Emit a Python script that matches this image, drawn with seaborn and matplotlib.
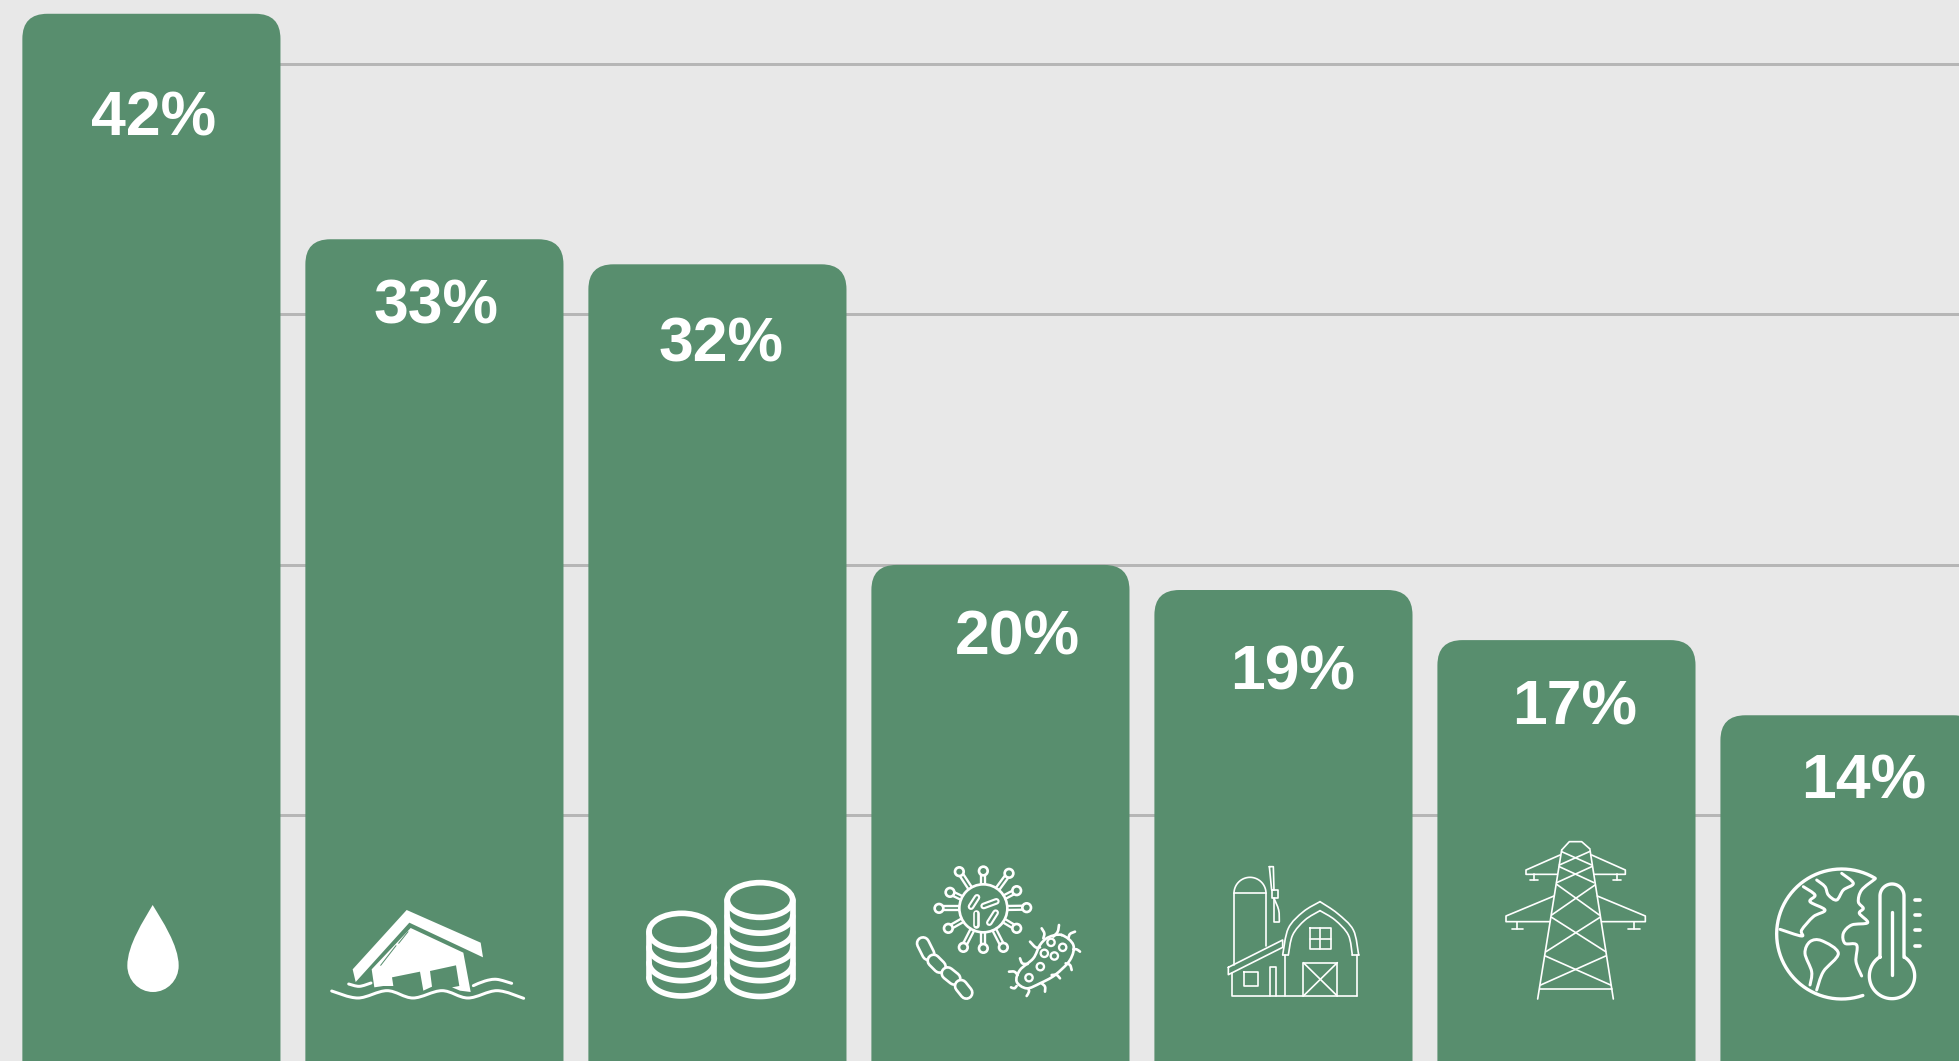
from matplotlib.patches import Circle, Ellipse, FancyBboxPatch, PathPatch, Polygon
from matplotlib.path import Path
from matplotlib.transforms import Affine2D

import matplotlib
matplotlib.use("Agg")
import matplotlib.pyplot as plt
import numpy as np
import seaborn as sns

# CHART VALUES
categories = ['water', 'flood', 'finance', 'disease', 'farm', 'power', 'climate']
values = [42, 33, 32, 20, 19, 17, 14]
value_labels = ['42%', '33%', '32%', '20%', '19%', '17%', '14%']
grid_ticks = [10, 20, 30, 40]

# LABEL OFFSET FROM THE TOP CENTRE OF EACH BAR, IN PIXELS
label_dx = [2, 2, 4, 16.5, 9, 8.5, 14]
label_dy = [105.5, 67.5, 80.5, 73, 82.5, 67.5, 66.5]

BG = '#e8e8e8'
GREEN = '#588e6e'
GRID = '#b6b6b6'
WHITE = '#ffffff'
W, H = 1959, 1061
DPI = 100
PX = 72 / DPI

sns.set_theme(style='white')
plt.rcParams['font.family'] = ['Liberation Sans', 'DejaVu Sans']

fig = plt.figure(figsize=(W / DPI, H / DPI), dpi=DPI, facecolor=BG)
ax = fig.add_axes([0, 0, 1, 1], facecolor=BG)

# BARS
sns.barplot(x=categories, y=values, order=categories, color=GREEN, saturation=1, width=0.912, ax=ax, zorder=2)
ax.set_xlim(-0.535, 6.387)
ax.set_ylim(0.2, 42.55)
x_unit = W / (ax.get_xlim()[1] - ax.get_xlim()[0])
y_unit = H / (ax.get_ylim()[1] - ax.get_ylim()[0])

# SWAP SQUARE BARS FOR ROUNDED ONES, BOTTOM CORNERS HIDDEN BELOW THE CANVAS
for bar in ax.patches[:len(values)]:
    bar.set_visible(False)
    x0, w, top = bar.get_x(), bar.get_width(), bar.get_height()
    ax.add_patch(FancyBboxPatch((x0, -3), w, top + 3, boxstyle='round,pad=0,rounding_size={}'.format(25 / x_unit),
                                mutation_aspect=x_unit / y_unit, facecolor=GREEN, edgecolor='none', zorder=2))

# GRID LINES START AT THE FIRST BAR, NOTHING TO THE LEFT OF IT
ax.hlines(grid_ticks, ax.patches[0].get_x() + 0.05, ax.get_xlim()[1], color=GRID, linewidth=3 * PX, zorder=1)
ax.tick_params(left=False, bottom=False, labelleft=False, labelbottom=False)
ax.set_xlabel('')
ax.set_ylabel('')
sns.despine(ax=ax, left=True, bottom=True)

for i, v in enumerate(values):
    ax.annotate(value_labels[i], xy=(i, v), xytext=(label_dx[i], -label_dy[i]), textcoords='offset pixels',
                ha='center', va='center', color=WHITE, fontsize=45, fontweight='bold', zorder=5)

# OVERLAY IN IMAGE PIXELS FOR THE ICONS
ov = fig.add_axes([0, 0, 1, 1], facecolor='none')
ov.set_xlim(0, W)
ov.set_ylim(H, 0)
ov.autoscale(False)
ov.axis('off')


def crop_tf(x0, y0):
    # ICON SHAPES ARE TRACED ON A 3X GRID WITH ITS ORIGIN AT (x0, y0)
    return Affine2D().scale(1 / 3).translate(x0, y0) + ov.transData


def line(tf, pts, lw=5, color=WHITE, cap='round', closed=False):
    pts = np.array(pts, dtype=float)
    if closed:
        pts = np.vstack([pts, pts[0]])
    ov.plot(pts[:, 0], pts[:, 1], transform=tf, color=color, linewidth=lw / 3 * PX,
            solid_capstyle=cap, solid_joinstyle='round', zorder=6)


def curve(tf, pts, lw=5, closed=False, color=WHITE):
    # CATMULL-ROM THROUGH THE TRACED POINTS
    p = np.array(pts, dtype=float)
    n = len(p)
    verts = [p[0]]
    codes = [Path.MOVETO]
    for i in range(n if closed else n - 1):
        if closed:
            a, b, c, d = p[(i - 1) % n], p[i], p[(i + 1) % n], p[(i + 2) % n]
        else:
            a, b, c, d = p[max(i - 1, 0)], p[i], p[i + 1], p[min(i + 2, n - 1)]
        verts += [b + (c - a) / 6, c - (d - b) / 6, c]
        codes += [Path.CURVE4] * 3
    ov.add_patch(PathPatch(Path(verts, codes), transform=tf, fill=False, edgecolor=color,
                           linewidth=lw / 3 * PX, capstyle='round', joinstyle='round', zorder=6))


def ring(tf, xy, r, lw=5):
    ov.add_patch(Circle(xy, r, transform=tf, fill=False, edgecolor=WHITE, linewidth=lw / 3 * PX, zorder=6))


def capsule(tf, a, b, outer, inner):
    line(tf, [a, b], lw=outer)
    line(tf, [a, b], lw=inner, color=GREEN)


def arc(cx, cy, rx, ry, start, end):
    t = np.radians(np.linspace(start, end, 60))
    return np.column_stack([cx + rx * np.cos(t), cy + ry * np.sin(t)])


# DROP
tf = crop_tf(120, 895)
drop = [(98, 30), (125, 75), (176, 150), (176, 212), (176, 255), (142, 291), (99, 291),
        (56, 291), (22, 255), (22, 212), (22, 150), (72, 75), (98, 30)]
ov.add_patch(PathPatch(Path(drop, [Path.MOVETO] + [Path.CURVE4] * 12), transform=tf,
                       facecolor=WHITE, edgecolor='none', zorder=6))

# FLOODED HOUSE
tf = crop_tf(320, 900)
ov.add_patch(Polygon([(260, 30), (482, 128), (489, 172), (268, 68), (107, 246), (98, 208)],
                     transform=tf, facecolor=WHITE, edgecolor='none', zorder=6))
ov.add_patch(Polygon([(272, 84), (430, 158), (452, 276), (420, 272), (396, 262), (418, 258), (408, 196), (330, 213),
                      (336, 260), (310, 272), (300, 215), (216, 232), (220, 258), (190, 258), (163, 262), (155, 208)],
                     transform=tf, facecolor=WHITE, edgecolor='none', zorder=6))
line(tf, [(264, 95), (236, 130)], lw=3, color=GREEN)
line(tf, [(228, 137), (182, 196)], lw=3, color=GREEN)
curve(tf, [(86, 252), (118, 259), (153, 249)], lw=9)
curve(tf, [(35, 273), (114, 294), (201, 272), (279, 294), (366, 272), (444, 294), (531, 272), (611, 295)], lw=9)
curve(tf, [(460, 257), (495, 243), (530, 238), (575, 250)], lw=9)

# COINS
tf = crop_tf(640, 875)
for cx, cy, rx, ry, step, count in [(360, 75, 98, 52, 47.5, 5), (125, 170, 98, 55, 46, 3)]:
    ov.add_patch(Ellipse((cx, cy), 2 * rx, 2 * ry, transform=tf, fill=False, edgecolor=WHITE,
                         linewidth=17 / 3 * PX, zorder=6))
    for k in range(1, count + 1):
        line(tf, arc(cx, cy + step * k, rx, ry, 0, 180), lw=17)
    line(tf, [(cx - rx, cy), (cx - rx, cy + step * count)], lw=17)
    line(tf, [(cx + rx, cy), (cx + rx, cy + step * count)], lw=17)

# VIRUS, CHAIN AND BACTERIUM
tf = crop_tf(905, 860)
centre = np.array([235.0, 145.0])
ring(tf, centre, 72, lw=8)
knobs = [(163, 35), (235, 33), (312, 40), (335, 92), (365, 143), (335, 205), (295, 262), (235, 265), (175, 262),
         (130, 205), (102, 145), (135, 97)]
for knob in knobs:
    knob = np.array(knob, dtype=float)
    u = (knob - centre) / np.linalg.norm(knob - centre)
    n = np.array([-u[1], u[0]])
    ring(tf, knob, 13, lw=8)
    for side in (-6, 6):
        line(tf, [centre + 72 * u + side * n, knob - 12 * u + side * n], lw=7)
for a, b in [((198, 140), (216, 112)), ((236, 138), (274, 124)), ((213, 160), (213, 194)), ((253, 188), (272, 158))]:
    capsule(tf, a, b, 20, 7)
for a, b in [((54, 250), (70, 282)), ((86, 302), (104, 320)), ((128, 340), (148, 356)), ((168, 378), (184, 398))]:
    capsule(tf, a, b, 44, 28)
curve(tf, [(470, 225), (505, 255), (495, 300), (450, 345), (405, 370), (365, 385), (335, 365), (345, 330), (385, 295),
           (405, 255), (430, 232)], lw=8, closed=True)
cilia = [[(405, 262), (392, 262), (375, 245)], [(445, 230), (458, 215), (462, 195)], [(490, 235), (495, 222), (510, 215)],
         [(505, 268), (515, 268), (525, 275)], [(482, 310), (495, 315), (500, 330)], [(440, 345), (455, 345), (465, 355)],
         [(410, 370), (420, 380), (420, 395)], [(370, 385), (372, 395), (365, 408)], [(335, 378), (328, 385), (318, 382)],
         [(338, 345), (328, 335), (312, 335)], [(368, 312), (352, 310), (345, 295)], [(415, 235), (418, 220), (410, 205)]]
for c in cilia:
    curve(tf, c, lw=8)
for xy in [(438, 247), (473, 262), (418, 280), (448, 288), (406, 320), (372, 353)]:
    ring(tf, xy, 11, lw=7)

# FARM
tf = crop_tf(1220, 860)
line(tf, [(42, 315), (42, 100), (138, 100), (138, 258)])
line(tf, arc(90, 100, 48, 48, 180, 360))
line(tf, [(148, 20), (160, 20), (162, 90), (155, 90)], closed=True)
line(tf, [(155, 90), (173, 90), (173, 115), (155, 115)], closed=True)
curve(tf, [(162, 115), (176, 150), (178, 185)])
line(tf, [(178, 185), (162, 185), (162, 115)])
curve(tf, [(188, 285), (205, 205), (250, 155), (300, 125)])
curve(tf, [(300, 125), (352, 160), (400, 210), (416, 285)])
curve(tf, [(205, 285), (218, 225), (255, 180), (300, 152)])
curve(tf, [(300, 152), (345, 180), (385, 225), (397, 285)])
line(tf, [(188, 285), (205, 285)])
line(tf, [(397, 285), (416, 285)])
line(tf, [(196, 285), (196, 408)])
line(tf, [(410, 285), (410, 408)])
line(tf, [(35, 340), (35, 408), (410, 408)])
line(tf, [(25, 322), (188, 240), (188, 262), (25, 344)], closed=True)
line(tf, [(72, 337), (115, 337), (115, 378), (72, 378)], closed=True)
line(tf, [(150, 408), (150, 320), (168, 320), (168, 408)])
line(tf, [(250, 408), (250, 308), (352, 308), (352, 408)])
line(tf, [(250, 308), (352, 408)])
line(tf, [(352, 308), (250, 408)])
line(tf, [(270, 205), (332, 205), (332, 266), (270, 266)], closed=True)
line(tf, [(301, 205), (301, 266)])
line(tf, [(270, 236), (332, 236)])

# PYLON AND GLOBE
tf = crop_tf(1440, 700)
pylon = [[(365, 450), (293, 897)], [(450, 450), (520, 897)], [(365, 450), (388, 425), (425, 425), (450, 447)],
         [(365, 455), (455, 495)], [(448, 455), (358, 495)], [(358, 500), (462, 548)], [(455, 500), (350, 548)],
         [(350, 553), (478, 645)], [(465, 555), (335, 645)], [(335, 652), (497, 755)], [(480, 652), (318, 755)],
         [(316, 768), (512, 855)], [(497, 768), (302, 855)], [(300, 868), (515, 868)],
         [(360, 465), (258, 510), (258, 523), (352, 523)], [(455, 465), (556, 510), (556, 523), (462, 523)],
         [(282, 523), (282, 540)], [(270, 540), (294, 540)], [(532, 523), (532, 540)], [(520, 540), (544, 540)],
         [(342, 588), (198, 648), (198, 665), (330, 665)], [(472, 588), (616, 648), (616, 665), (485, 665)],
         [(232, 665), (232, 686)], [(215, 686), (250, 686)], [(582, 665), (582, 686)], [(565, 686), (600, 686)]]
for seg in pylon:
    line(tf, seg, lw=5)

line(tf, arc(1205, 702, 195, 195, -59, -289), lw=10)
curve(tf, [(1305, 537), (1265, 570), (1255, 605), (1270, 625), (1258, 640), (1283, 668), (1235, 675), (1210, 700),
           (1215, 730), (1250, 735), (1248, 785), (1265, 828)], lw=9)
curve(tf, [(1130, 540), (1155, 560), (1165, 585), (1190, 600), (1210, 570), (1240, 550), (1205, 520)], lw=9)
curve(tf, [(1090, 560), (1125, 585), (1110, 605), (1155, 630), (1120, 650), (1085, 690), (1085, 708), (1020, 688)], lw=9)
curve(tf, [(1110, 855), (1115, 815), (1095, 760), (1110, 725), (1145, 722), (1195, 760), (1150, 815), (1130, 870)], lw=9)
stem = np.vstack([[(1320, 772)], arc(1356, 588, 36, 36, 180, 360), [(1392, 772)], arc(1356, 828, 68, 68, -56, 236)])
line(tf, stem, lw=10, closed=True)
line(tf, [(1356, 635), (1356, 825)], lw=10)
for y in [600, 645, 691, 737]:
    line(tf, [(1425, y), (1440, y)], lw=11)

fig.savefig('out.png', dpi=DPI, facecolor=BG)
